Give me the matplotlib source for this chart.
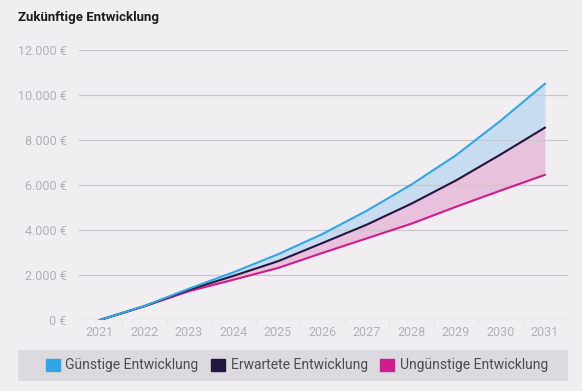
import numpy as np
import matplotlib.pyplot as plt
from matplotlib.patches import Rectangle, Patch
from matplotlib.ticker import FuncFormatter

plt.rcParams['font.family'] = ['Roboto', 'DejaVu Sans']

years = ["2021", "2022", "2023", "2024", "2025", "2026", "2027", "2028", "2029", "2030", "2031"]
guenstig = [0, 620, 1390, 2120, 2920, 3820, 4860, 6020, 7320, 8850, 10500]
erwartet = [0, 615, 1340, 1960, 2610, 3420, 4240, 5170, 6200, 7350, 8550]
unguenstig = [0, 610, 1280, 1790, 2310, 2980, 3630, 4280, 5030, 5750, 6450]

bg = "#f0eef1"
c_blue = "#31a6e6"
c_dark = "#241541"
c_pink = "#d11c8e"
fill_blue = "#c7dcf0"
fill_pink = "#e8c1dc"
tick_col = "#b3afb7"

fig = plt.figure(figsize=(5.82, 3.91), dpi=100, facecolor=bg)
ax = fig.add_axes([0.1357, 0.1816, 0.8403, 0.6905], facecolor=bg)

x = np.arange(len(years))
ax.fill_between(x, erwartet, guenstig, color=fill_blue, lw=0, zorder=1)
ax.fill_between(x, unguenstig, erwartet, color=fill_pink, lw=0, zorder=1)
ax.plot(x, unguenstig, color=c_pink, lw=1.5, zorder=3)
ax.plot(x, erwartet, color=c_dark, lw=1.5, zorder=4)
ax.plot(x, guenstig, color=c_blue, lw=1.5, zorder=5)

ax.set_xlim(-0.47, 10.52)
ax.set_ylim(0, 12000)
ax.set_yticks(np.arange(0, 12001, 2000))
ax.yaxis.set_major_formatter(FuncFormatter(lambda v, p: f"{int(v):,} €".replace(",", ".")))
ax.set_xticks(x)
ax.set_xticklabels(years)
ax.set_xticks(x[:-1] + 0.5, minor=True)
ax.grid(axis="y", color="#cac7cc", lw=0.9, zorder=0)
ax.tick_params(axis="y", length=0, pad=9, labelsize=9, labelcolor=tick_col)
ax.tick_params(axis="x", which="major", length=0, pad=4, labelsize=9, labelcolor=tick_col)
ax.tick_params(axis="x", which="minor", length=3, color="#e2e0e4", width=0.8)
for s in ax.spines.values():
    s.set_visible(False)

fig.text(18 / 582, 1 - 18 / 391, "Zukünftige Entwicklung", fontsize=9.5, fontweight="bold",
         color="#1c1c1c", va="center", ha="left")

# legend box
fig.patches.append(Rectangle((18 / 582, 1 - 381 / 391), 550 / 582, 31 / 391,
                             transform=fig.transFigure, facecolor="#dcdadf", edgecolor="none", zorder=0))
handles = [Patch(color=c_blue, label="Günstige Entwicklung"),
           Patch(color=c_dark, label="Erwartete Entwicklung"),
           Patch(color=c_pink, label="Ungünstige Entwicklung")]
leg = fig.legend(handles=handles, loc="center", bbox_to_anchor=(297 / 582, 1 - 365.5 / 391),
                 ncol=3, frameon=False, fontsize=10, handlelength=1.0, handleheight=1.0,
                 handletextpad=0.4, columnspacing=0.9)
for t in leg.get_texts():
    t.set_color("#4d4a52")

fig.savefig("out.png", dpi=100, facecolor=bg)
